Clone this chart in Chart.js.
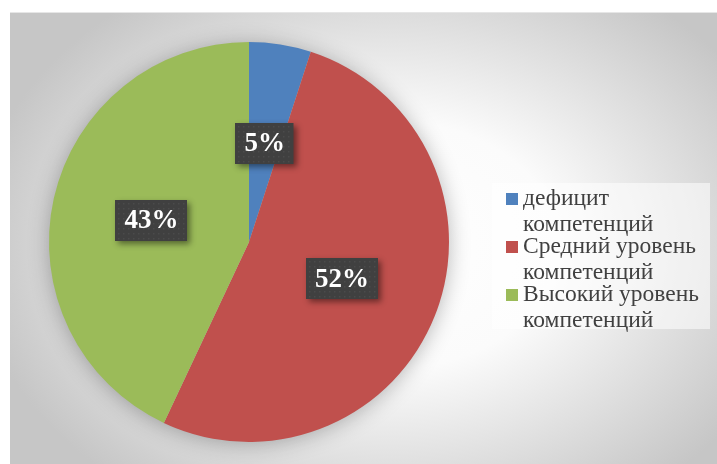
<!DOCTYPE html>
<html>
<head>
<meta charset="utf-8">
<script src="https://cdn.jsdelivr.net/npm/chart.js@4"></script>
<style>
html,body{margin:0;padding:0;background:#fff;}
#wrap{position:absolute;left:0;top:0;width:717px;height:464px;}
</style>
</head>
<body>
<div id="wrap"><canvas id="c" width="717" height="464"></canvas></div>
<script>
const categories = [["дефицит", "компетенций"], ["Средний уровень", "компетенций"], ["Высокий уровень", "компетенций"]];
const values = [5, 52, 43];
const valueLabels = ["5%", "52%", "43%"];
const colors = ["#4F81BD", "#C0504D", "#9BBB59"];

const serif = '"Liberation Serif", "Times New Roman", serif';

const bgPlugin = {
  id: 'bg',
  beforeDraw(chart) {
    const ctx = chart.ctx;
    const x0 = 10, y0 = 12, x1 = 717, y1 = 464;
    const cx = 390, cy = 245;
    ctx.save();
    ctx.translate(cx, cy);
    ctx.scale(1.35, 1);
    const g = ctx.createRadialGradient(0, 0, 0, 0, 0, 310);
    g.addColorStop(0, '#ffffff');
    g.addColorStop(0.4, '#fbfbfb');
    g.addColorStop(1, '#c6c6c6');
    ctx.fillStyle = g;
    ctx.fillRect((x0 - cx) / 1.35, y0 - cy, (x1 - x0) / 1.35, y1 - y0);
    ctx.restore();
    ctx.save();
    ctx.fillStyle = '#e6e6e6';
    ctx.fillRect(x0, y0, x1 - x0, 1);
    ctx.restore();
  }
};

const shadowPlugin = {
  id: 'pieShadow',
  beforeDatasetsDraw(chart) {
    const ctx = chart.ctx;
    const meta = chart.getDatasetMeta(0);
    const a = meta.data[0];
    ctx.save();
    ctx.shadowColor = 'rgba(0,0,0,0.3)';
    ctx.shadowBlur = 22;
    ctx.shadowOffsetX = 0;
    ctx.shadowOffsetY = 2;
    ctx.fillStyle = '#bbbbbb';
    ctx.beginPath();
    ctx.arc(a.x, a.y, a.outerRadius - 1, 0, Math.PI * 2);
    ctx.fill();
    ctx.restore();
  }
};

const labelPlugin = {
  id: 'boxLabels',
  afterDatasetsDraw(chart) {
    const ctx = chart.ctx;
    const meta = chart.getDatasetMeta(0);
    ctx.save();
    ctx.font = 'bold 27px ' + serif;
    ctx.textAlign = 'center';
    ctx.textBaseline = 'middle';
    meta.data.forEach((arc, i) => {
      const p = arc.tooltipPosition();
      const txt = valueLabels[i];
      const w = ctx.measureText(txt).width + 18;
      const h = 41;
      const bx = Math.round(p.x - w / 2), by = Math.round(p.y - h / 2);
      ctx.save();
      ctx.shadowColor = 'rgba(0,0,0,0.45)';
      ctx.shadowBlur = 6;
      ctx.shadowOffsetX = 3;
      ctx.shadowOffsetY = 3;
      ctx.fillStyle = '#404040';
      ctx.fillRect(bx, by, w, h);
      ctx.restore();
      ctx.fillStyle = 'rgba(80,80,80,0.7)';
      for (let yy = by + 3; yy < by + h - 1; yy += 5) {
        for (let xx = bx + 3; xx < bx + w - 1; xx += 5) {
          ctx.fillRect(xx, yy, 1.5, 1.5);
        }
      }
      ctx.fillStyle = '#ffffff';
      ctx.fillText(txt, p.x, p.y + 1);
    });
    ctx.restore();
  }
};

const legendPlugin = {
  id: 'customLegend',
  afterDraw(chart) {
    const ctx = chart.ctx;
    const labels = chart.data.labels;
    const cols = chart.data.datasets[0].backgroundColor;
    ctx.save();
    ctx.fillStyle = 'rgba(255,255,255,0.55)';
    ctx.fillRect(492, 183, 218, 146);
    ctx.font = '23.5px ' + serif;
    ctx.textBaseline = 'middle';
    ctx.textAlign = 'left';
    const starts = [199, 247, 295];
    labels.forEach((lab, i) => {
      const y = starts[i];
      ctx.fillStyle = cols[i];
      ctx.fillRect(506, y - 6, 12, 12);
      ctx.fillStyle = '#404040';
      lab.forEach((line, j) => {
        ctx.fillText(line, 523, y + j * 26);
      });
    });
    ctx.restore();
  }
};

new Chart(document.getElementById('c'), {
  type: 'pie',
  data: {
    labels: categories,
    datasets: [{
      data: values,
      backgroundColor: colors,
      borderWidth: 0
    }]
  },
  options: {
    responsive: false,
    animation: false,
    rotation: 0,
    layout: { padding: { left: 49, top: 42, right: 268, bottom: 22 } },
    plugins: {
      legend: { display: false },
      tooltip: { enabled: false },
      title: { display: false }
    }
  },
  plugins: [bgPlugin, shadowPlugin, labelPlugin, legendPlugin]
});
</script>
</body>
</html>
